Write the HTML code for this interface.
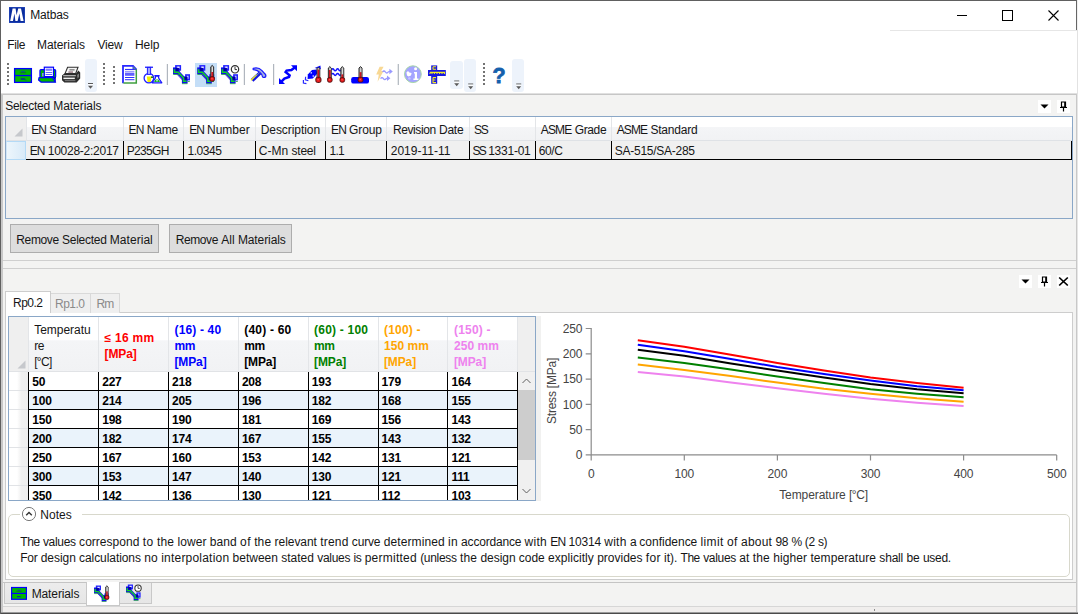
<!DOCTYPE html>
<html>
<head>
<meta charset="utf-8">
<title>Matbas</title>
<style>
*{box-sizing:border-box;margin:0;padding:0}
html,body{width:1078px;height:614px;overflow:hidden;background:#fff}
body{font-family:"Liberation Sans",sans-serif;font-size:12px;color:#161616;position:relative}
.abs{position:absolute}
.t{position:absolute;white-space:nowrap;line-height:16px}
#win{position:absolute;left:0;top:0;width:1078px;height:614px;background:#fff;overflow:hidden}
.btn{position:absolute;background:#dddddd;border:1px solid #adadad}
.hdr{position:absolute;background:linear-gradient(#ffffff 0%,#ffffff 42%,#f4f5f7 43%,#f1f2f4 100%)}
svg{position:absolute;overflow:visible}
</style>
</head>
<body>
<div id="win">
<!-- title bar -->
<svg style="left:9px;top:7px" width="16" height="16" viewBox="0 0 16 16">
<rect x="0" y="0" width="16" height="16" fill="#2a4cc0"/>
<rect x="0.6" y="0.6" width="14.8" height="14.8" fill="#0a2d9e"/>
<path d="M1.2 14 L3.6 1.6 L6.6 1.6 L7.6 8.2 L9.2 1.6 L12 1.6 L14.6 14 L11.6 14 L10.4 6.6 L8.6 14 L6.4 14 L5.4 6.6 L4 14 Z" fill="#fff"/>
</svg>
<div class="t" style="left:30.3px;top:7px;letter-spacing:-0.175px">Matbas</div>
<div class="abs" style="left:957px;top:15px;width:10px;height:1px;background:#000"></div>
<div class="abs" style="left:1002px;top:10px;width:11px;height:11px;border:1px solid #000"></div>
<svg style="left:1047px;top:9px" width="13" height="13" viewBox="0 0 13 13"><path d="M1.5 1.5 L11.5 11.5 M11.5 1.5 L1.5 11.5" stroke="#000" stroke-width="1.1" fill="none"/></svg>
<div class="abs" style="left:890px;top:30px;width:187px;height:1px;background:#e6e6e6"></div>
<!-- menu -->
<div class="t" style="left:7.3px;top:37px;letter-spacing:-0.434px">File</div>
<div class="t" style="left:37px;top:37px;letter-spacing:-0.076px">Materials</div>
<div class="t" style="left:97.5px;top:37px;letter-spacing:-0.198px">View</div>
<div class="t" style="left:135px;top:37px;letter-spacing:-0.070px">Help</div>
<!-- toolbar -->
<div class="abs" style="left:85px;top:59px;width:11.5px;height:33px;background:#edf3fb;border-radius:3px"></div>
<div class="abs" style="left:449.5px;top:61px;width:13px;height:28px;background:#edf3fb;border-radius:3px"></div>
<div class="abs" style="left:464px;top:58.5px;width:12px;height:33px;background:#edf3fb;border-radius:3px"></div>
<div class="abs" style="left:512px;top:58.5px;width:12px;height:33px;background:#edf3fb;border-radius:3px"></div>
<div class="abs" style="left:195px;top:62.5px;width:22px;height:24px;background:#c4def7"></div>
<svg style="left:0;top:0" width="1078" height="100" viewBox="0 0 1078 100">
<rect x="7" y="63" width="2" height="2" fill="#737373"/><rect x="7" y="67" width="2" height="2" fill="#737373"/><rect x="7" y="71" width="2" height="2" fill="#737373"/><rect x="7" y="75" width="2" height="2" fill="#737373"/><rect x="7" y="79" width="2" height="2" fill="#737373"/><rect x="7" y="83" width="2" height="2" fill="#737373"/>
<rect x="103" y="63" width="2" height="2" fill="#737373"/><rect x="103" y="67" width="2" height="2" fill="#737373"/><rect x="103" y="71" width="2" height="2" fill="#737373"/><rect x="103" y="75" width="2" height="2" fill="#737373"/><rect x="103" y="79" width="2" height="2" fill="#737373"/><rect x="103" y="83" width="2" height="2" fill="#737373"/>
<rect x="113" y="66" width="2" height="2" fill="#737373"/><rect x="113" y="70" width="2" height="2" fill="#737373"/><rect x="113" y="74" width="2" height="2" fill="#737373"/><rect x="113" y="78" width="2" height="2" fill="#737373"/><rect x="113" y="82" width="2" height="2" fill="#737373"/>
<rect x="483" y="63" width="2" height="2" fill="#737373"/><rect x="483" y="67" width="2" height="2" fill="#737373"/><rect x="483" y="71" width="2" height="2" fill="#737373"/><rect x="483" y="75" width="2" height="2" fill="#737373"/><rect x="483" y="79" width="2" height="2" fill="#737373"/><rect x="483" y="83" width="2" height="2" fill="#737373"/>
<rect x="88.0" y="83.0" width="5" height="1" fill="#5a5a5a"/><rect x="88.0" y="84.2" width="5" height="1" fill="#fff"/><path d="M88.0 85.8 h5 l-2.5 3 z" fill="#5a5a5a"/>
<rect x="454.2" y="80.5" width="5" height="1" fill="#5a5a5a"/><rect x="454.2" y="81.7" width="5" height="1" fill="#fff"/><path d="M454.2 83.3 h5 l-2.5 3 z" fill="#5a5a5a"/>
<rect x="468.2" y="83.5" width="5" height="1" fill="#5a5a5a"/><rect x="468.2" y="84.7" width="5" height="1" fill="#fff"/><path d="M468.2 86.3 h5 l-2.5 3 z" fill="#5a5a5a"/>
<rect x="516.2" y="83.5" width="5" height="1" fill="#5a5a5a"/><rect x="516.2" y="84.7" width="5" height="1" fill="#fff"/><path d="M516.2 86.3 h5 l-2.5 3 z" fill="#5a5a5a"/>
<rect x="166.8" y="64" width="1.2" height="21" fill="#b0b6be"/>
<rect x="243.8" y="64" width="1.2" height="21" fill="#b0b6be"/>
<rect x="273.0" y="64" width="1.2" height="21" fill="#b0b6be"/>
<rect x="397.7" y="64" width="1.2" height="21" fill="#b0b6be"/>
<rect x="14.6" y="68.6" width="16.8" height="13.8" fill="#00b800" stroke="#0000ff" stroke-width="1.3"/><rect x="14.6" y="74.9" width="16.8" height="1.3" fill="#0000ff"/><path d="M15.5 69.9 H30.5" stroke="#0a3a90" stroke-width="0.6" stroke-dasharray="1 1"/><rect x="21" y="71.4" width="4" height="1" fill="#1030c0"/><rect x="19.8" y="72.6" width="6.4" height="0.6" fill="#106020"/><rect x="20.8" y="78.3" width="4" height="1.4" fill="#0828a0"/><path d="M24.5 79 L26.4 80.6" stroke="#0828a0" stroke-width="0.7"/>
<rect x="40" y="69.6" width="15.6" height="8" rx="1" fill="#00b800" stroke="#0000ff" stroke-width="1.3"/><rect x="44.3" y="67.2" width="9.2" height="9.4" fill="#fff" stroke="#0000ff" stroke-width="1.2"/><rect x="45.6" y="68.6" width="6.6" height="2.2" fill="#8080ff"/><rect x="45.6" y="72" width="6.6" height="0.9" fill="#5050ff"/><rect x="45.6" y="74" width="6.6" height="0.9" fill="#5050ff"/><rect x="42" y="73" width="1.6" height="3.4" fill="#8888ff"/><path d="M52.5 77 L55.8 77 L55.8 82 Z" fill="#0000c8"/><path d="M39 77.6 L52.4 77.6 L55.6 82.2 L41.2 82.2 L38.6 80 Z" fill="#00b800" stroke="#0000ff" stroke-width="1.2" stroke-linejoin="round"/>
<path d="M67.6 67.2 L78 67.2 L75.6 73.6 L65 73.6 Z" fill="#f4f4f4" stroke="#303030" stroke-width="1.1"/><rect x="69.4" y="69" width="5.2" height="1.6" fill="#909090"/><rect x="68.4" y="71.6" width="4.6" height="0.9" fill="#603040"/><path d="M64.4 73.4 L76 73.4 L78.4 70.4 L80.2 72.4 L80.2 78.6 L76.6 82.6 L64.4 82.6 L62 80.2 L62 75.6 Z" fill="#2c2c2c"/><rect x="63.2" y="75.3" width="12.6" height="0.9" fill="#e8e8e8"/><rect x="63.4" y="77.6" width="11.4" height="1.5" fill="#f0f0f0"/><rect x="64.8" y="80.4" width="10.6" height="0.7" fill="#a0a0a0"/><path d="M77 75 L79 73.4 L79 77 L77.6 78.6 Z" fill="#808080"/>
<path d="M122.9 65.9 L133 65.9 L136.4 69.4 L136.4 83.1 L122.9 83.1 Z" fill="#fff"/><path d="M123 83.2 L123 65.9 L133 65.9 L136.3 69.3" stroke="#2828ff" stroke-width="1.8" fill="none"/><path d="M136.3 69 L136.3 83.1 L123.4 83.1" stroke="#40a040" stroke-width="1.5" fill="none"/><path d="M133 66 L133 69.4 L136.3 69.4" stroke="#3838f0" stroke-width="1" fill="#60b060"/><rect x="125" y="68.9" width="9.4" height="1.1" fill="#3030ff"/><rect x="125" y="70.9" width="9.4" height="0.8" fill="#7070ff"/><rect x="125" y="72.6" width="9.4" height="3.2" fill="#6060ff"/><rect x="125" y="77" width="9.4" height="1" fill="#3030ff"/><rect x="125" y="79.2" width="9.4" height="1" fill="#3030ff"/>
<circle cx="148.9" cy="78.1" r="4.8" fill="#fff" stroke="#2020ff" stroke-width="1.3"/><rect x="147.4" y="67.4" width="3.2" height="7" fill="#a8a8ff" stroke="#2020ff" stroke-width="1"/><rect x="145" y="66.6" width="8" height="1.3" fill="#2020ff"/><path d="M146.8 76.6 L151.6 76.6 L150.8 82 L147.6 82 Z" fill="#f4f000"/><path d="M155.4 76 L158.6 76 L158.6 78 L161.8 82.8 L152.2 82.8 L155.4 78 Z" fill="#fff" stroke="#1818ff" stroke-width="1.3" stroke-linejoin="round"/><rect x="154.4" y="75" width="5.2" height="1.2" fill="#1818ff"/><path d="M155.6 79.6 L158.4 79.6 L160 82 L154 82 Z" fill="#10b020"/><rect x="156.4" y="80" width="1.2" height="1.4" fill="#fff"/><rect x="151" y="76.4" width="2" height="1.6" fill="#208020"/>
<g transform="translate(173,65.2)"><path d="M5 7 L12.2 14.8" stroke="#1818e8" stroke-width="3.4" fill="none"/><path d="M3.8 8.8 L10 15.4" stroke="#0a0ab8" stroke-width="0.8" fill="none"/><rect x="2.9" y="0.7" width="4.4" height="4" fill="#fff" stroke="#2222ff" stroke-width="1.6"/><rect x="0" y="2.2" width="6.5" height="6.8" fill="#1010e8"/><rect x="2.6" y="2.8" width="3" height="3" fill="#0000a0"/><rect x="4.4" y="1.5" width="2.1" height="1.2" fill="#e8e8ff"/><rect x="12.9" y="9.8" width="3.3" height="4.6" fill="#fff" stroke="#2222ff" stroke-width="1.6"/><rect x="8.9" y="11.4" width="5.7" height="6.9" fill="#1010e8"/><rect x="11.2" y="11.6" width="3" height="3" fill="#0000a0"/><path d="M1.4 4 L1.4 7 L5.2 7 L10.6 12.8 L10.6 16 L13.6 16" stroke="#10d820" stroke-width="1.5" fill="none"/><path d="M0.2 9.3 L5.6 9.3 M9 18.5 L14.4 18.5 M14.8 16.3 L16.8 16.3" stroke="#20a040" stroke-width="0.8" fill="none"/></g>
<g transform="translate(197.2,65.2)"><path d="M5 7 L12.2 14.8" stroke="#1818e8" stroke-width="3.4" fill="none"/><path d="M3.8 8.8 L10 15.4" stroke="#0a0ab8" stroke-width="0.8" fill="none"/><rect x="2.9" y="0.7" width="4.4" height="4" fill="#fff" stroke="#2222ff" stroke-width="1.6"/><rect x="0" y="2.2" width="6.5" height="6.8" fill="#1010e8"/><rect x="2.6" y="2.8" width="3" height="3" fill="#0000a0"/><rect x="4.4" y="1.5" width="2.1" height="1.2" fill="#e8e8ff"/><rect x="12.9" y="9.8" width="3.3" height="4.6" fill="#fff" stroke="#2222ff" stroke-width="1.6"/><rect x="8.9" y="11.4" width="5.7" height="6.9" fill="#1010e8"/><rect x="11.2" y="11.6" width="3" height="3" fill="#0000a0"/><path d="M1.4 4 L1.4 7 L5.2 7 L10.6 12.8 L10.6 16 L13.6 16" stroke="#10d820" stroke-width="1.5" fill="none"/><path d="M0.2 9.3 L5.6 9.3 M9 18.5 L14.4 18.5 M14.8 16.3 L16.8 16.3" stroke="#20a040" stroke-width="0.8" fill="none"/></g>
<path d="M210.75 78.6 L210.75 66.80000000000001 L212.2 65.4 L213.64999999999998 66.80000000000001 L213.64999999999998 78.6 Z" fill="#b0b0b0" stroke="#282828" stroke-width="1" stroke-linejoin="round"/><rect x="212.1" y="67.0" width="0.9" height="4.999999999999995" fill="#e4e4e4"/><rect x="211.35" y="72" width="1.7" height="6.599999999999994" fill="#d01420"/><rect x="209.89999999999998" y="76.6" width="4.6" height="4.6" rx="1.7" fill="#e41818" stroke="#4a1010" stroke-width="0.9"/><circle cx="212.0" cy="78.69999999999999" r="0.8" fill="#ff5858"/>
<g transform="translate(221,65.2)"><path d="M5 7 L12.2 14.8" stroke="#1818e8" stroke-width="3.4" fill="none"/><path d="M3.8 8.8 L10 15.4" stroke="#0a0ab8" stroke-width="0.8" fill="none"/><rect x="2.9" y="0.7" width="4.4" height="4" fill="#fff" stroke="#2222ff" stroke-width="1.6"/><rect x="0" y="2.2" width="6.5" height="6.8" fill="#1010e8"/><rect x="2.6" y="2.8" width="3" height="3" fill="#0000a0"/><rect x="4.4" y="1.5" width="2.1" height="1.2" fill="#e8e8ff"/><rect x="12.9" y="9.8" width="3.3" height="4.6" fill="#fff" stroke="#2222ff" stroke-width="1.6"/><rect x="8.9" y="11.4" width="5.7" height="6.9" fill="#1010e8"/><rect x="11.2" y="11.6" width="3" height="3" fill="#0000a0"/><path d="M1.4 4 L1.4 7 L5.2 7 L10.6 12.8 L10.6 16 L13.6 16" stroke="#10d820" stroke-width="1.5" fill="none"/><path d="M0.2 9.3 L5.6 9.3 M9 18.5 L14.4 18.5 M14.8 16.3 L16.8 16.3" stroke="#20a040" stroke-width="0.8" fill="none"/></g>
<circle cx="235" cy="69.3" r="3.7" fill="#fff" stroke="#303030" stroke-width="1.2"/><path d="M235 66.8 L235 69.6 L237 69.6" stroke="#202020" stroke-width="0.9" fill="none"/>
<path d="M253.2 68.4 Q258.4 66.8 262 70.6 L264.4 73.4 Q266.4 74.6 265.6 76.8 Q264.4 78 262.6 77 Q262.4 74.6 260.2 72.8 Q257 69.8 253.2 69.6 Z" fill="#a8b4e0" stroke="#1c1cff" stroke-width="1.3" stroke-linejoin="round"/><path d="M260 73 L252.2 80.4" stroke="#1414e0" stroke-width="3.6" fill="none"/><path d="M256.8 74.8 L251 80.2" stroke="#ecec10" stroke-width="1.4" fill="none"/><path d="M259.6 72.6 L254.4 77.6" stroke="#88a8a0" stroke-width="0.8" fill="none"/>
<path d="M291 65.2 L297 65.2 L297 71.2 Z" fill="#0000ff"/><path d="M279 78 L279 84 L285 84 Z" fill="#0000ff"/><path d="M295.4 67 L291.4 70 L286.6 70.6 L285.6 72 L289.6 75.4 L289 77 L284.4 78.6 L280.4 82.6" stroke="#0000ff" stroke-width="2.5" fill="none" stroke-linejoin="miter"/>
<path d="M307.6 79 L307.8 74.6 L312 70 L316.6 69.6 L317.4 73.4 L312.8 78.6 Z" fill="#0000ff"/><path d="M314.6 68 L320.4 65.6 L320.8 69.2" fill="#0000ff"/><path d="M305.6 76.8 L305.4 79.8 L308.4 80.8 M303.4 80 L303.4 83 L306.4 83.6" stroke="#2828ff" stroke-width="1.2" fill="none"/><rect x="310.6" y="72.2" width="1.3" height="1.3" fill="#fff"/><rect x="312.6" y="75.4" width="1.3" height="1.3" fill="#fff"/><path d="M317.0 79.6 L317.0 68.60000000000001 L318.4 67.2 L319.79999999999995 68.60000000000001 L319.79999999999995 79.6 Z" fill="#b0b0b0" stroke="#282828" stroke-width="1" stroke-linejoin="round"/><rect x="318.29999999999995" y="68.8" width="0.9" height="0.7999999999999914" fill="#e4e4e4"/><rect x="317.6" y="69.6" width="1.5999999999999999" height="10.0" fill="#d01420"/><rect x="315.79999999999995" y="77.3" width="5.2" height="5.2" rx="1.7" fill="#e41818" stroke="#4a1010" stroke-width="0.9"/><circle cx="318.2" cy="79.69999999999999" r="0.8" fill="#ff5858"/>
<path d="M331.6 69.8 q1.2 -2 2.4 0 t2.4 0 t2.4 0 t2.4 0 M331.6 74.4 q1.2 -2 2.4 0 t2.4 0 t2.4 0 t2.4 0" stroke="#1818ff" stroke-width="1.5" fill="none"/><path d="M328.35 79.6 L328.35 68.0 L329.8 66.6 L331.25 68.0 L331.25 79.6 Z" fill="#b0b0b0" stroke="#282828" stroke-width="1" stroke-linejoin="round"/><rect x="329.7" y="68.19999999999999" width="0.9" height="1.8000000000000056" fill="#e4e4e4"/><rect x="328.95000000000005" y="70" width="1.7" height="9.599999999999994" fill="#d01420"/><rect x="327.5" y="77.6" width="4.6" height="4.6" rx="1.7" fill="#e41818" stroke="#4a1010" stroke-width="0.9"/><circle cx="329.6" cy="79.69999999999999" r="0.8" fill="#ff5858"/>
<path d="M340.85 79.6 L340.85 68.0 L342.3 66.6 L343.75 68.0 L343.75 79.6 Z" fill="#b0b0b0" stroke="#282828" stroke-width="1" stroke-linejoin="round"/><rect x="342.2" y="68.19999999999999" width="0.9" height="6.200000000000012" fill="#e4e4e4"/><rect x="341.45000000000005" y="74.4" width="1.7" height="5.199999999999989" fill="#d01420"/><rect x="340.0" y="77.6" width="4.6" height="4.6" rx="1.7" fill="#e41818" stroke="#4a1010" stroke-width="0.9"/><circle cx="342.1" cy="79.69999999999999" r="0.8" fill="#ff5858"/>
<rect x="351.2" y="77" width="17.8" height="6.6" rx="2.2" fill="#0000ff"/><path d="M359.0 79.4 L359.0 68.0 L360.5 66.6 L362.0 68.0 L362.0 79.4 Z" fill="#b0b0b0" stroke="#282828" stroke-width="1" stroke-linejoin="round"/><rect x="360.4" y="68.19999999999999" width="0.9" height="4.000000000000009" fill="#e4e4e4"/><rect x="359.6" y="72.2" width="1.8" height="7.200000000000003" fill="#d01420"/><rect x="358.1" y="77.3" width="4.8" height="4.8" rx="1.7" fill="#e41818" stroke="#4a1010" stroke-width="0.9"/><circle cx="360.3" cy="79.5" r="0.8" fill="#ff5858"/>
<path d="M379.6 66.8 L383.6 66.8 L381.2 71 L383.6 71 L377.6 81.8 L378.8 74.6 L376.2 74.6 Z" fill="#f8d894"/><path d="M382.6 72 q1.4 -2 2.8 0 t2.8 0 L390 71.4 M380.6 78.6 q1.4 -2 2.8 0 t2.8 0 L388 78" stroke="#9898ff" stroke-width="1.3" fill="none"/><path d="M389.4 68.8 L392.8 71.4 L389.4 74.2 Z M387 75.6 L390.4 78.2 L387 81 Z" fill="#9898ff"/>
<circle cx="412.9" cy="74.2" r="8.4" fill="#a4a4ff" stroke="#a8d8a8" stroke-width="1"/><path d="M406.4 72.6 l1.6 -1.6 l1.4 1.6 l2.2 0.4 l-0.6 2.4 l-2.4 1 l-1.6 -0.8 z" fill="#fff"/><circle cx="415.6" cy="68.8" r="1.5" fill="#fff"/><path d="M414 72 L417 72 L417 78.4 L418.4 78.4 L418.4 80 L413.4 80 L413.4 78.4 L414.8 78.4 L414.8 73.6 L414 73.6 Z" fill="#fff"/><circle cx="409.4" cy="78.4" r="1.2" fill="#c8c8ff"/>
<rect x="431.2" y="65.4" width="6" height="18.4" fill="#1818e0"/><rect x="428" y="70" width="17.8" height="6" fill="#1818e0"/><path d="M433 66.8 h3 M433 66.8 v2.6 M433 69.2 h3 M433 77.6 h3 M433 77.6 v5.4 M433 80 h2.4 M433 82.6 h3" stroke="#f4ec20" stroke-width="1.1" fill="none"/><path d="M430 72.4 h15 M430 74 v-1.4 M432 74 v-1.4 M434.4 74 v-1.4 M437 74 v-1.4 M439.6 74 v-1.4 M442 74 v-1.4 M444.4 74 v-1.4" stroke="#f4ec20" stroke-width="1.1" fill="none"/>
</svg>
<div class="t" style="left:492.6px;top:61.6px;font-size:21.5px;font-weight:bold;color:#1560ac;line-height:28px;-webkit-text-stroke:0.8px #1560ac">?</div>
<!-- dock area -->
<div class="abs" style="left:1px;top:93px;width:1076px;height:519px;background:#f3f3f2"></div>
<div class="abs" style="left:1px;top:93px;width:1076px;height:1px;background:#e0e0e0"></div>
<div class="abs" style="left:1px;top:94px;width:1076px;height:1px;background:#c6c6c6"></div>
<!-- panel 1 -->
<div class="t" style="left:5.2px;top:98px;letter-spacing:-0.251px">Selected</div>
<div class="t" style="left:53.18px;top:98px;letter-spacing:-0.040px">Materials</div>
<div class="abs" style="left:1038px;top:100px;width:13px;height:13px;background:#fff"></div>
<svg style="left:1038px;top:100px" width="13" height="13" viewBox="0 0 13 13"><path d="M2.5 4.5 L10.5 4.5 L6.5 8.5 Z" fill="#000"/></svg>
<div class="abs" style="left:1057px;top:100px;width:13px;height:13px;background:#fff"></div>
<svg style="left:1057px;top:100px" width="13" height="13" viewBox="0 0 13 13"><path d="M4.5 2 L8.5 2 L8.5 7 L4.5 7 Z M3 7.5 L10 7.5 M6.5 7.5 L6.5 11.5" stroke="#000" stroke-width="1.2" fill="none"/><rect x="7.2" y="2" width="1.3" height="5" fill="#000"/></svg>
<div class="abs" style="left:5px;top:116px;width:1068px;height:103px;border:1px solid #8aa7c7;background:#f0f0f0"></div>
<div class="hdr" style="left:6px;top:117px;width:1066px;height:24px"></div>
<div class="abs" style="left:6px;top:117px;width:20px;height:23px;background:#efefef"></div>
<div class="abs" style="left:6px;top:140px;width:1066px;height:1px;background:#dfe2e6"></div>
<svg style="left:14px;top:128px" width="9" height="9" viewBox="0 0 9 9"><path d="M8.5 0.5 L8.5 8.5 L0.5 8.5 Z" fill="#c6c8cc"/></svg>
<div class="abs" style="left:26px;top:117px;width:1px;height:24px;background:#e3e5e8"></div>
<div class="abs" style="left:123px;top:117px;width:1px;height:24px;background:#e3e5e8"></div>
<div class="abs" style="left:183px;top:117px;width:1px;height:24px;background:#e3e5e8"></div>
<div class="abs" style="left:255px;top:117px;width:1px;height:24px;background:#e3e5e8"></div>
<div class="abs" style="left:325px;top:117px;width:1px;height:24px;background:#e3e5e8"></div>
<div class="abs" style="left:386px;top:117px;width:1px;height:24px;background:#e3e5e8"></div>
<div class="abs" style="left:469px;top:117px;width:1px;height:24px;background:#e3e5e8"></div>
<div class="abs" style="left:535px;top:117px;width:1px;height:24px;background:#e3e5e8"></div>
<div class="abs" style="left:611px;top:117px;width:1px;height:24px;background:#e3e5e8"></div>
<div class="t" style="left:31.2px;top:122px;letter-spacing:-0.943px">EN</div>
<div class="t" style="left:49.21px;top:122px;letter-spacing:-0.227px">Standard</div>
<div class="t" style="left:128.6px;top:122px;letter-spacing:-0.891px">EN</div>
<div class="t" style="left:146.74px;top:122px;letter-spacing:-0.163px">Name</div>
<div class="t" style="left:189.2px;top:122px;letter-spacing:-0.997px">EN</div>
<div class="t" style="left:207.08px;top:122px;letter-spacing:-0.027px">Number</div>
<div class="t" style="left:260.7px;top:122px;letter-spacing:-0.066px">Description</div>
<div class="t" style="left:331.1px;top:122px;letter-spacing:-0.944px">EN</div>
<div class="t" style="left:349.11px;top:122px;letter-spacing:-0.133px">Group</div>
<div class="t" style="left:392.9px;top:122px;letter-spacing:-0.391px">Revision</div>
<div class="t" style="left:439.0px;top:122px;letter-spacing:-0.262px">Date</div>
<div class="t" style="left:474.0px;top:122px;letter-spacing:-1.255px">SS</div>
<div class="t" style="left:540.8px;top:122px;letter-spacing:-0.844px">ASME</div>
<div class="t" style="left:574.69px;top:122px;letter-spacing:-0.368px">Grade</div>
<div class="t" style="left:616.7px;top:122px;letter-spacing:-0.883px">ASME</div>
<div class="t" style="left:650.42px;top:122px;letter-spacing:-0.215px">Standard</div>
<div class="abs" style="left:6px;top:141px;width:20px;height:19px;background:linear-gradient(to right,#edf6fc,#d8eaf8);border:1px solid #b4daf6;border-left-color:#d0e6f8"></div>
<div class="abs" style="left:26px;top:159px;width:1046px;height:1px;background:#000"></div>
<div class="abs" style="left:123px;top:141px;width:1px;height:19px;background:#000"></div>
<div class="abs" style="left:183px;top:141px;width:1px;height:19px;background:#000"></div>
<div class="abs" style="left:255px;top:141px;width:1px;height:19px;background:#000"></div>
<div class="abs" style="left:325px;top:141px;width:1px;height:19px;background:#000"></div>
<div class="abs" style="left:386px;top:141px;width:1px;height:19px;background:#000"></div>
<div class="abs" style="left:469px;top:141px;width:1px;height:19px;background:#000"></div>
<div class="abs" style="left:535px;top:141px;width:1px;height:19px;background:#000"></div>
<div class="abs" style="left:611px;top:141px;width:1px;height:19px;background:#000"></div>
<div class="abs" style="left:1071px;top:141px;width:1px;height:19px;background:#000"></div>
<div class="t" style="left:29.7px;top:143.4px;letter-spacing:-0.929px">EN</div>
<div class="t" style="left:47.75px;top:143.4px;letter-spacing:-0.259px">10028-2:2017</div>
<div class="t" style="left:126.7px;top:143.4px;letter-spacing:-0.654px">P235GH</div>
<div class="t" style="left:187.5px;top:143.4px;letter-spacing:-0.450px">1.0345</div>
<div class="t" style="left:258.8px;top:143.4px;letter-spacing:0.025px">C-Mn</div>
<div class="t" style="left:291.48px;top:143.4px;letter-spacing:-0.205px">steel</div>
<div class="t" style="left:329.5px;top:143.4px;letter-spacing:-0.727px">1.1</div>
<div class="t" style="left:390.7px;top:143.4px;letter-spacing:0.020px">2019-11-11</div>
<div class="t" style="left:472.6px;top:143.4px;letter-spacing:-1.819px">SS</div>
<div class="t" style="left:488.16px;top:143.4px;letter-spacing:-0.243px">1331-01</div>
<div class="t" style="left:538.8px;top:143.4px;letter-spacing:-0.412px">60/C</div>
<div class="t" style="left:614.8px;top:143.4px;letter-spacing:-0.268px">SA-515/SA-285</div>
<div class="btn" style="left:10px;top:224px;width:149px;height:29px"></div>
<div class="t" style="left:16.3px;top:232px;letter-spacing:-0.359px">Remove</div>
<div class="t" style="left:62.09px;top:232px;letter-spacing:-0.282px">Selected</div>
<div class="t" style="left:109.8px;top:232px;letter-spacing:0.040px">Material</div>
<div class="btn" style="left:169px;top:224px;width:123px;height:29px"></div>
<div class="t" style="left:175.7px;top:232px;letter-spacing:-0.395px">Remove</div>
<div class="t" style="left:221.26px;top:232px;letter-spacing:0.015px">All</div>
<div class="t" style="left:237.89px;top:232px;letter-spacing:-0.096px">Materials</div>
<div class="abs" style="left:1px;top:260px;width:1075px;height:1px;background:#cfcfcf"></div>
<div class="abs" style="left:3px;top:268px;width:1073px;height:1px;background:#cfcfcf"></div>
<!-- panel 2 -->
<div class="abs" style="left:1019px;top:275px;width:13px;height:13px;background:#fff"></div>
<div class="abs" style="left:1038px;top:275px;width:13px;height:13px;background:#fff"></div>
<div class="abs" style="left:1057px;top:275px;width:13px;height:13px;background:#fff"></div>
<svg style="left:1019px;top:275px" width="13" height="13" viewBox="0 0 13 13"><path d="M2.5 4.5 L10.5 4.5 L6.5 8.5 Z" fill="#000"/></svg>
<svg style="left:1038px;top:275px" width="13" height="13" viewBox="0 0 13 13"><path d="M4.5 2 L8.5 2 L8.5 7 L4.5 7 Z M3 7.5 L10 7.5 M6.5 7.5 L6.5 11.5" stroke="#000" stroke-width="1.2" fill="none"/><rect x="7.2" y="2" width="1.3" height="5" fill="#000"/></svg>
<svg style="left:1057px;top:275px" width="13" height="13" viewBox="0 0 13 13"><path d="M2.2 2.5 L10.8 10.5 M10.8 2.5 L2.2 10.5" stroke="#000" stroke-width="1.7" fill="none"/></svg>
<div class="abs" style="left:5px;top:312px;width:1068px;height:268px;background:#fff;border:1px solid #cdcdcd"></div>
<div class="abs" style="left:50px;top:293px;width:41px;height:20px;background:#efefef;border:1px solid #d9d9d9;border-bottom:none"></div>
<div class="abs" style="left:90px;top:293px;width:30px;height:20px;background:#efefef;border:1px solid #d9d9d9;border-bottom:none"></div>
<div class="abs" style="left:5px;top:291px;width:46px;height:22px;background:#fff;border:1px solid #cdcdcd;border-bottom:none"></div>
<div class="t" style="left:13px;top:295px;letter-spacing:-0.504px">Rp0.2</div>
<div class="t" style="left:55px;top:296px;color:#8a8a8a;letter-spacing:-0.504px">Rp1.0</div>
<div class="t" style="left:96.5px;top:296px;color:#8a8a8a;letter-spacing:-0.831px">Rm</div>
<div class="abs" style="left:8px;top:316px;width:528px;height:185px;border:1px solid #8aa7c7;background:#fff;overflow:hidden"></div>
<div class="hdr" style="left:9px;top:317px;width:509px;height:55px"></div>
<div class="abs" style="left:518px;top:317px;width:17px;height:55px;background:#efefef"></div>
<div class="abs" style="left:9px;top:317px;width:20px;height:54px;background:#efefef"></div>
<div class="abs" style="left:9px;top:371px;width:526px;height:1px;background:#e1e3e6"></div>
<svg style="left:17px;top:360px" width="9" height="9" viewBox="0 0 9 9"><path d="M8.5 0.5 L8.5 8.5 L0.5 8.5 Z" fill="#c6c8cc"/></svg>
<div class="abs" style="left:28.35px;top:317px;width:1px;height:55px;background:#e3e5e8"></div>
<div class="abs" style="left:98.2px;top:317px;width:1px;height:55px;background:#e3e5e8"></div>
<div class="abs" style="left:168.05px;top:317px;width:1px;height:55px;background:#e3e5e8"></div>
<div class="abs" style="left:237.9px;top:317px;width:1px;height:55px;background:#e3e5e8"></div>
<div class="abs" style="left:307.75px;top:317px;width:1px;height:55px;background:#e3e5e8"></div>
<div class="abs" style="left:377.6px;top:317px;width:1px;height:55px;background:#e3e5e8"></div>
<div class="abs" style="left:447.45px;top:317px;width:1px;height:55px;background:#e3e5e8"></div>
<div class="abs" style="left:517.3px;top:317px;width:1px;height:55px;background:#e3e5e8"></div>
<div class="t" style="left:34.2px;top:322px;letter-spacing:-0.022px">Temperatu</div>
<div class="t" style="left:34.2px;top:338px;letter-spacing:-0.335px">re</div>
<div class="t" style="left:34.2px;top:353.5px;letter-spacing:-0.658px">[°C]</div>
<div class="t" style="left:104.6px;top:329.5px;font-weight:bold;color:#ff0000;letter-spacing:0.265px">≤ 16 mm</div>
<div class="t" style="left:104.6px;top:345.5px;font-weight:bold;color:#ff0000;letter-spacing:-0.134px">[MPa]</div>
<div class="t" style="left:174.5px;top:322px;font-weight:bold;color:#0000ff;letter-spacing:0.150px">(16) - 40</div>
<div class="t" style="left:174.5px;top:338px;font-weight:bold;color:#0000ff;letter-spacing:-0.420px">mm</div>
<div class="t" style="left:174.5px;top:354px;font-weight:bold;color:#0000ff;letter-spacing:-0.134px">[MPa]</div>
<div class="t" style="left:244.2px;top:322px;font-weight:bold;color:#000000;letter-spacing:0.205px">(40) - 60</div>
<div class="t" style="left:244.2px;top:338px;font-weight:bold;color:#000000;letter-spacing:-0.420px">mm</div>
<div class="t" style="left:244.2px;top:354px;font-weight:bold;color:#000000;letter-spacing:-0.134px">[MPa]</div>
<div class="t" style="left:314.1px;top:322px;font-weight:bold;color:#008000;letter-spacing:0.207px">(60) - 100</div>
<div class="t" style="left:314.1px;top:338px;font-weight:bold;color:#008000;letter-spacing:-0.420px">mm</div>
<div class="t" style="left:314.1px;top:354px;font-weight:bold;color:#008000;letter-spacing:-0.134px">[MPa]</div>
<div class="t" style="left:384px;top:322px;font-weight:bold;color:#ffa500;letter-spacing:0.179px">(100) -</div>
<div class="t" style="left:384px;top:338px;font-weight:bold;color:#ffa500;letter-spacing:0.051px">150 mm</div>
<div class="t" style="left:384px;top:354px;font-weight:bold;color:#ffa500;letter-spacing:-0.134px">[MPa]</div>
<div class="t" style="left:454px;top:322px;font-weight:bold;color:#ee82ee;letter-spacing:0.179px">(150) -</div>
<div class="t" style="left:454px;top:338px;font-weight:bold;color:#ee82ee;letter-spacing:0.051px">250 mm</div>
<div class="t" style="left:454px;top:354px;font-weight:bold;color:#ee82ee;letter-spacing:-0.134px">[MPa]</div>
<div class="abs" style="left:9px;top:372px;width:526px;height:128px;overflow:hidden">
<div class="abs" style="left:20px;top:0px;width:489px;height:19px;background:#ffffff"></div>
<div class="abs" style="left:0px;top:0px;width:20px;height:19px;background:linear-gradient(to right,#fff 0%,#fff 40%,#f0f0f0 62%,#eeeeee 100%)"></div>
<div class="abs" style="left:0px;top:18px;width:20px;height:1px;background:#e1e3e6"></div>
<div class="abs" style="left:20px;top:18px;width:489px;height:1px;background:#000"></div>
<div class="abs" style="left:89.2px;top:0px;width:1px;height:19px;background:#000"></div>
<div class="abs" style="left:159.05px;top:0px;width:1px;height:19px;background:#000"></div>
<div class="abs" style="left:228.9px;top:0px;width:1px;height:19px;background:#000"></div>
<div class="abs" style="left:298.75px;top:0px;width:1px;height:19px;background:#000"></div>
<div class="abs" style="left:368.6px;top:0px;width:1px;height:19px;background:#000"></div>
<div class="abs" style="left:438.45px;top:0px;width:1px;height:19px;background:#000"></div>
<div class="abs" style="left:508.29999999999995px;top:0px;width:1px;height:19px;background:#000"></div>
<div class="abs" style="left:19.35px;top:0px;width:1px;height:19px;background:#000"></div>
<div class="t" style="left:23.35px;top:1.5px;font-weight:bold;color:#000;letter-spacing:-0.234px">50</div>
<div class="t" style="left:93.2px;top:1.5px;font-weight:bold;color:#000;letter-spacing:-0.234px">227</div>
<div class="t" style="left:163.05px;top:1.5px;font-weight:bold;color:#000;letter-spacing:-0.234px">218</div>
<div class="t" style="left:232.9px;top:1.5px;font-weight:bold;color:#000;letter-spacing:-0.234px">208</div>
<div class="t" style="left:302.75px;top:1.5px;font-weight:bold;color:#000;letter-spacing:-0.234px">193</div>
<div class="t" style="left:372.6px;top:1.5px;font-weight:bold;color:#000;letter-spacing:-0.234px">179</div>
<div class="t" style="left:442.45px;top:1.5px;font-weight:bold;color:#000;letter-spacing:-0.234px">164</div>
<div class="abs" style="left:20px;top:19px;width:489px;height:19px;background:#eaf3fb"></div>
<div class="abs" style="left:0px;top:19px;width:20px;height:19px;background:linear-gradient(to right,#fff 0%,#fff 40%,#f0f0f0 62%,#eeeeee 100%)"></div>
<div class="abs" style="left:0px;top:37px;width:20px;height:1px;background:#e1e3e6"></div>
<div class="abs" style="left:20px;top:37px;width:489px;height:1px;background:#000"></div>
<div class="abs" style="left:89.2px;top:19px;width:1px;height:19px;background:#000"></div>
<div class="abs" style="left:159.05px;top:19px;width:1px;height:19px;background:#000"></div>
<div class="abs" style="left:228.9px;top:19px;width:1px;height:19px;background:#000"></div>
<div class="abs" style="left:298.75px;top:19px;width:1px;height:19px;background:#000"></div>
<div class="abs" style="left:368.6px;top:19px;width:1px;height:19px;background:#000"></div>
<div class="abs" style="left:438.45px;top:19px;width:1px;height:19px;background:#000"></div>
<div class="abs" style="left:508.29999999999995px;top:19px;width:1px;height:19px;background:#000"></div>
<div class="abs" style="left:19.35px;top:19px;width:1px;height:19px;background:#000"></div>
<div class="t" style="left:23.35px;top:20.5px;font-weight:bold;color:#000;letter-spacing:-0.234px">100</div>
<div class="t" style="left:93.2px;top:20.5px;font-weight:bold;color:#000;letter-spacing:-0.234px">214</div>
<div class="t" style="left:163.05px;top:20.5px;font-weight:bold;color:#000;letter-spacing:-0.234px">205</div>
<div class="t" style="left:232.9px;top:20.5px;font-weight:bold;color:#000;letter-spacing:-0.234px">196</div>
<div class="t" style="left:302.75px;top:20.5px;font-weight:bold;color:#000;letter-spacing:-0.234px">182</div>
<div class="t" style="left:372.6px;top:20.5px;font-weight:bold;color:#000;letter-spacing:-0.234px">168</div>
<div class="t" style="left:442.45px;top:20.5px;font-weight:bold;color:#000;letter-spacing:-0.234px">155</div>
<div class="abs" style="left:20px;top:38px;width:489px;height:19px;background:#ffffff"></div>
<div class="abs" style="left:0px;top:38px;width:20px;height:19px;background:linear-gradient(to right,#fff 0%,#fff 40%,#f0f0f0 62%,#eeeeee 100%)"></div>
<div class="abs" style="left:0px;top:56px;width:20px;height:1px;background:#e1e3e6"></div>
<div class="abs" style="left:20px;top:56px;width:489px;height:1px;background:#000"></div>
<div class="abs" style="left:89.2px;top:38px;width:1px;height:19px;background:#000"></div>
<div class="abs" style="left:159.05px;top:38px;width:1px;height:19px;background:#000"></div>
<div class="abs" style="left:228.9px;top:38px;width:1px;height:19px;background:#000"></div>
<div class="abs" style="left:298.75px;top:38px;width:1px;height:19px;background:#000"></div>
<div class="abs" style="left:368.6px;top:38px;width:1px;height:19px;background:#000"></div>
<div class="abs" style="left:438.45px;top:38px;width:1px;height:19px;background:#000"></div>
<div class="abs" style="left:508.29999999999995px;top:38px;width:1px;height:19px;background:#000"></div>
<div class="abs" style="left:19.35px;top:38px;width:1px;height:19px;background:#000"></div>
<div class="t" style="left:23.35px;top:39.5px;font-weight:bold;color:#000;letter-spacing:-0.234px">150</div>
<div class="t" style="left:93.2px;top:39.5px;font-weight:bold;color:#000;letter-spacing:-0.234px">198</div>
<div class="t" style="left:163.05px;top:39.5px;font-weight:bold;color:#000;letter-spacing:-0.234px">190</div>
<div class="t" style="left:232.9px;top:39.5px;font-weight:bold;color:#000;letter-spacing:-0.234px">181</div>
<div class="t" style="left:302.75px;top:39.5px;font-weight:bold;color:#000;letter-spacing:-0.234px">169</div>
<div class="t" style="left:372.6px;top:39.5px;font-weight:bold;color:#000;letter-spacing:-0.234px">156</div>
<div class="t" style="left:442.45px;top:39.5px;font-weight:bold;color:#000;letter-spacing:-0.234px">143</div>
<div class="abs" style="left:20px;top:57px;width:489px;height:19px;background:#eaf3fb"></div>
<div class="abs" style="left:0px;top:57px;width:20px;height:19px;background:linear-gradient(to right,#fff 0%,#fff 40%,#f0f0f0 62%,#eeeeee 100%)"></div>
<div class="abs" style="left:0px;top:75px;width:20px;height:1px;background:#e1e3e6"></div>
<div class="abs" style="left:20px;top:75px;width:489px;height:1px;background:#000"></div>
<div class="abs" style="left:89.2px;top:57px;width:1px;height:19px;background:#000"></div>
<div class="abs" style="left:159.05px;top:57px;width:1px;height:19px;background:#000"></div>
<div class="abs" style="left:228.9px;top:57px;width:1px;height:19px;background:#000"></div>
<div class="abs" style="left:298.75px;top:57px;width:1px;height:19px;background:#000"></div>
<div class="abs" style="left:368.6px;top:57px;width:1px;height:19px;background:#000"></div>
<div class="abs" style="left:438.45px;top:57px;width:1px;height:19px;background:#000"></div>
<div class="abs" style="left:508.29999999999995px;top:57px;width:1px;height:19px;background:#000"></div>
<div class="abs" style="left:19.35px;top:57px;width:1px;height:19px;background:#000"></div>
<div class="t" style="left:23.35px;top:58.5px;font-weight:bold;color:#000;letter-spacing:-0.234px">200</div>
<div class="t" style="left:93.2px;top:58.5px;font-weight:bold;color:#000;letter-spacing:-0.234px">182</div>
<div class="t" style="left:163.05px;top:58.5px;font-weight:bold;color:#000;letter-spacing:-0.234px">174</div>
<div class="t" style="left:232.9px;top:58.5px;font-weight:bold;color:#000;letter-spacing:-0.234px">167</div>
<div class="t" style="left:302.75px;top:58.5px;font-weight:bold;color:#000;letter-spacing:-0.234px">155</div>
<div class="t" style="left:372.6px;top:58.5px;font-weight:bold;color:#000;letter-spacing:-0.234px">143</div>
<div class="t" style="left:442.45px;top:58.5px;font-weight:bold;color:#000;letter-spacing:-0.234px">132</div>
<div class="abs" style="left:20px;top:76px;width:489px;height:19px;background:#ffffff"></div>
<div class="abs" style="left:0px;top:76px;width:20px;height:19px;background:linear-gradient(to right,#fff 0%,#fff 40%,#f0f0f0 62%,#eeeeee 100%)"></div>
<div class="abs" style="left:0px;top:94px;width:20px;height:1px;background:#e1e3e6"></div>
<div class="abs" style="left:20px;top:94px;width:489px;height:1px;background:#000"></div>
<div class="abs" style="left:89.2px;top:76px;width:1px;height:19px;background:#000"></div>
<div class="abs" style="left:159.05px;top:76px;width:1px;height:19px;background:#000"></div>
<div class="abs" style="left:228.9px;top:76px;width:1px;height:19px;background:#000"></div>
<div class="abs" style="left:298.75px;top:76px;width:1px;height:19px;background:#000"></div>
<div class="abs" style="left:368.6px;top:76px;width:1px;height:19px;background:#000"></div>
<div class="abs" style="left:438.45px;top:76px;width:1px;height:19px;background:#000"></div>
<div class="abs" style="left:508.29999999999995px;top:76px;width:1px;height:19px;background:#000"></div>
<div class="abs" style="left:19.35px;top:76px;width:1px;height:19px;background:#000"></div>
<div class="t" style="left:23.35px;top:77.5px;font-weight:bold;color:#000;letter-spacing:-0.234px">250</div>
<div class="t" style="left:93.2px;top:77.5px;font-weight:bold;color:#000;letter-spacing:-0.234px">167</div>
<div class="t" style="left:163.05px;top:77.5px;font-weight:bold;color:#000;letter-spacing:-0.234px">160</div>
<div class="t" style="left:232.9px;top:77.5px;font-weight:bold;color:#000;letter-spacing:-0.234px">153</div>
<div class="t" style="left:302.75px;top:77.5px;font-weight:bold;color:#000;letter-spacing:-0.234px">142</div>
<div class="t" style="left:372.6px;top:77.5px;font-weight:bold;color:#000;letter-spacing:-0.234px">131</div>
<div class="t" style="left:442.45px;top:77.5px;font-weight:bold;color:#000;letter-spacing:-0.234px">121</div>
<div class="abs" style="left:20px;top:95px;width:489px;height:19px;background:#eaf3fb"></div>
<div class="abs" style="left:0px;top:95px;width:20px;height:19px;background:linear-gradient(to right,#fff 0%,#fff 40%,#f0f0f0 62%,#eeeeee 100%)"></div>
<div class="abs" style="left:0px;top:113px;width:20px;height:1px;background:#e1e3e6"></div>
<div class="abs" style="left:20px;top:113px;width:489px;height:1px;background:#000"></div>
<div class="abs" style="left:89.2px;top:95px;width:1px;height:19px;background:#000"></div>
<div class="abs" style="left:159.05px;top:95px;width:1px;height:19px;background:#000"></div>
<div class="abs" style="left:228.9px;top:95px;width:1px;height:19px;background:#000"></div>
<div class="abs" style="left:298.75px;top:95px;width:1px;height:19px;background:#000"></div>
<div class="abs" style="left:368.6px;top:95px;width:1px;height:19px;background:#000"></div>
<div class="abs" style="left:438.45px;top:95px;width:1px;height:19px;background:#000"></div>
<div class="abs" style="left:508.29999999999995px;top:95px;width:1px;height:19px;background:#000"></div>
<div class="abs" style="left:19.35px;top:95px;width:1px;height:19px;background:#000"></div>
<div class="t" style="left:23.35px;top:96.5px;font-weight:bold;color:#000;letter-spacing:-0.234px">300</div>
<div class="t" style="left:93.2px;top:96.5px;font-weight:bold;color:#000;letter-spacing:-0.234px">153</div>
<div class="t" style="left:163.05px;top:96.5px;font-weight:bold;color:#000;letter-spacing:-0.234px">147</div>
<div class="t" style="left:232.9px;top:96.5px;font-weight:bold;color:#000;letter-spacing:-0.234px">140</div>
<div class="t" style="left:302.75px;top:96.5px;font-weight:bold;color:#000;letter-spacing:-0.234px">130</div>
<div class="t" style="left:372.6px;top:96.5px;font-weight:bold;color:#000;letter-spacing:-0.234px">121</div>
<div class="t" style="left:442.45px;top:96.5px;font-weight:bold;color:#000;letter-spacing:-0.218px">111</div>
<div class="abs" style="left:20px;top:114px;width:489px;height:19px;background:#ffffff"></div>
<div class="abs" style="left:0px;top:114px;width:20px;height:19px;background:linear-gradient(to right,#fff 0%,#fff 40%,#f0f0f0 62%,#eeeeee 100%)"></div>
<div class="abs" style="left:0px;top:132px;width:20px;height:1px;background:#e1e3e6"></div>
<div class="abs" style="left:20px;top:132px;width:489px;height:1px;background:#000"></div>
<div class="abs" style="left:89.2px;top:114px;width:1px;height:19px;background:#000"></div>
<div class="abs" style="left:159.05px;top:114px;width:1px;height:19px;background:#000"></div>
<div class="abs" style="left:228.9px;top:114px;width:1px;height:19px;background:#000"></div>
<div class="abs" style="left:298.75px;top:114px;width:1px;height:19px;background:#000"></div>
<div class="abs" style="left:368.6px;top:114px;width:1px;height:19px;background:#000"></div>
<div class="abs" style="left:438.45px;top:114px;width:1px;height:19px;background:#000"></div>
<div class="abs" style="left:508.29999999999995px;top:114px;width:1px;height:19px;background:#000"></div>
<div class="abs" style="left:19.35px;top:114px;width:1px;height:19px;background:#000"></div>
<div class="t" style="left:23.35px;top:115.5px;font-weight:bold;color:#000;letter-spacing:-0.234px">350</div>
<div class="t" style="left:93.2px;top:115.5px;font-weight:bold;color:#000;letter-spacing:-0.234px">142</div>
<div class="t" style="left:163.05px;top:115.5px;font-weight:bold;color:#000;letter-spacing:-0.234px">136</div>
<div class="t" style="left:232.9px;top:115.5px;font-weight:bold;color:#000;letter-spacing:-0.234px">130</div>
<div class="t" style="left:302.75px;top:115.5px;font-weight:bold;color:#000;letter-spacing:-0.234px">121</div>
<div class="t" style="left:372.6px;top:115.5px;font-weight:bold;color:#000;letter-spacing:-0.226px">112</div>
<div class="t" style="left:442.45px;top:115.5px;font-weight:bold;color:#000;letter-spacing:-0.234px">103</div>
</div>
<div class="abs" style="left:518px;top:372px;width:17px;height:128px;background:#f0f0f0"></div>
<div class="abs" style="left:518px;top:390px;width:17px;height:70px;background:#cdcdcd"></div>
<svg style="left:518px;top:372px" width="17" height="18" viewBox="0 0 17 18"><path d="M4.5 11 L8.5 7 L12.5 11" stroke="#606060" stroke-width="1" fill="none"/></svg>
<svg style="left:518px;top:482px" width="17" height="18" viewBox="0 0 17 18"><path d="M4.5 7 L8.5 11 L12.5 7" stroke="#606060" stroke-width="1" fill="none"/></svg>
<div class="abs" style="left:536px;top:316px;width:5px;height:185px;background:#f1f1f0"></div>
<!-- chart -->
<svg style="left:0;top:0" width="1078" height="614" viewBox="0 0 1078 614">
<path d="M591.2 328.0 L591.2 454.9 L1056.7 454.9" stroke="#8c8c8c" stroke-width="1.2" fill="none"/>
<path d="M585.7 454.9 L591.2 454.9 M585.7 429.6 L591.2 429.6 M585.7 404.4 L591.2 404.4 M585.7 379.1 L591.2 379.1 M585.7 353.8 L591.2 353.8 M585.7 328.5 L591.2 328.5 M591.2 454.9 L591.2 460.4 M684.3 454.9 L684.3 460.4 M777.4 454.9 L777.4 460.4 M870.5 454.9 L870.5 460.4 M963.6 454.9 L963.6 460.4 M1056.7 454.9 L1056.7 460.4 " stroke="#8c8c8c" stroke-width="1.2" fill="none"/>
<polyline points="637.8,372.0 684.3,376.6 730.9,382.6 777.4,388.2 824.0,393.7 870.5,398.8 917.0,402.8 963.6,405.9" stroke="#ee82ee" stroke-width="2" fill="none" stroke-linejoin="round"/>
<polyline points="637.8,364.4 684.3,370.0 730.9,376.1 777.4,382.6 824.0,388.7 870.5,393.7 917.0,398.3 963.6,401.8" stroke="#ffa500" stroke-width="2" fill="none" stroke-linejoin="round"/>
<polyline points="637.8,357.4 684.3,362.9 730.9,369.5 777.4,376.6 824.0,383.1 870.5,389.2 917.0,393.7 963.6,397.3" stroke="#008000" stroke-width="2" fill="none" stroke-linejoin="round"/>
<polyline points="637.8,349.8 684.3,355.8 730.9,363.4 777.4,370.5 824.0,377.6 870.5,384.1 917.0,389.2 963.6,393.2" stroke="#000000" stroke-width="2" fill="none" stroke-linejoin="round"/>
<polyline points="637.8,344.7 684.3,351.3 730.9,358.9 777.4,367.0 824.0,374.0 870.5,380.6 917.0,386.2 963.6,390.2" stroke="#0000ff" stroke-width="2" fill="none" stroke-linejoin="round"/>
<polyline points="637.8,340.2 684.3,346.7 730.9,354.8 777.4,362.9 824.0,370.5 870.5,377.6 917.0,383.1 963.6,387.7" stroke="#ff0000" stroke-width="2" fill="none" stroke-linejoin="round"/>
</svg>
<div class="t" style="left:575.76px;top:447.1px;color:#444444;letter-spacing:-0.133px">0</div>
<div class="t" style="left:569.22px;top:421.83px;color:#444444;letter-spacing:-0.133px">50</div>
<div class="t" style="left:562.68px;top:396.56px;color:#444444;letter-spacing:-0.133px">100</div>
<div class="t" style="left:562.68px;top:371.29px;color:#444444;letter-spacing:-0.133px">150</div>
<div class="t" style="left:562.68px;top:346.02px;color:#444444;letter-spacing:-0.133px">200</div>
<div class="t" style="left:562.68px;top:320.75px;color:#444444;letter-spacing:-0.133px">250</div>
<div class="t" style="left:587.93px;top:465.5px;color:#444444;letter-spacing:-0.133px">0</div>
<div class="t" style="left:674.49px;top:465.5px;color:#444444;letter-spacing:-0.133px">100</div>
<div class="t" style="left:767.59px;top:465.5px;color:#444444;letter-spacing:-0.133px">200</div>
<div class="t" style="left:860.69px;top:465.5px;color:#444444;letter-spacing:-0.133px">300</div>
<div class="t" style="left:953.79px;top:465.5px;color:#444444;letter-spacing:-0.133px">400</div>
<div class="t" style="left:1046.89px;top:465.5px;color:#444444;letter-spacing:-0.133px">500</div>
<div class="t" style="left:779.15px;top:487px;color:#444444;letter-spacing:-0.078px">Temperature</div>
<div class="t" style="left:848.88px;top:487px;color:#444444;letter-spacing:-0.340px">[°C]</div>
<div class="t" style="left:543.5px;top:424.0px;color:#444444;transform:rotate(-90deg);transform-origin:0 0;letter-spacing:-0.224px">Stress [MPa]</div>
<!-- notes -->
<div class="abs" style="left:8px;top:514px;width:1062px;height:63px;border:1px solid #d8d8cc;border-radius:5px"></div>
<div class="abs" style="left:20px;top:510px;width:62px;height:9px;background:#fff"></div>
<svg style="left:21px;top:506px" width="16" height="16" viewBox="0 0 16 16"><circle cx="8" cy="8" r="6.6" fill="#fff" stroke="#7a7a7a" stroke-width="1"/><path d="M5.2 9.3 L8 6.5 L10.8 9.3" stroke="#333" stroke-width="1.4" fill="none"/></svg>
<div class="t" style="left:40.3px;top:506.5px;letter-spacing:0.031px">Notes</div>
<div class="t" style="left:20.3px;top:534px;letter-spacing:-0.444px">The</div>
<div class="t" style="left:42.93px;top:534px;letter-spacing:-0.297px">values</div>
<div class="t" style="left:79.12px;top:534px;letter-spacing:0.018px">correspond</div>
<div class="t" style="left:142.63px;top:534px;letter-spacing:0.546px">to</div>
<div class="t" style="left:157.01px;top:534px;letter-spacing:0.148px">the</div>
<div class="t" style="left:177.43px;top:534px;letter-spacing:0.078px">lower</div>
<div class="t" style="left:209.78px;top:534px;letter-spacing:0.076px">band</div>
<div class="t" style="left:240.07px;top:534px;letter-spacing:0.390px">of</div>
<div class="t" style="left:254.14px;top:534px;letter-spacing:0.148px">the</div>
<div class="t" style="left:274.55px;top:534px;letter-spacing:-0.044px">relevant</div>
<div class="t" style="left:320.18px;top:534px;letter-spacing:0.201px">trend</div>
<div class="t" style="left:351.82px;top:534px;letter-spacing:-0.164px">curve</div>
<div class="t" style="left:383.63px;top:534px;letter-spacing:0.117px">determined</div>
<div class="t" style="left:448.12px;top:534px;letter-spacing:0.172px">in</div>
<div class="t" style="left:461.09px;top:534px;letter-spacing:-0.187px">accordance</div>
<div class="t" style="left:524.55px;top:534px;letter-spacing:0.272px">with</div>
<div class="t" style="left:550.26px;top:534px;letter-spacing:-0.811px">EN</div>
<div class="t" style="left:568.6px;top:534px;letter-spacing:-0.206px">10314</div>
<div class="t" style="left:604.23px;top:534px;letter-spacing:0.272px">with</div>
<div class="t" style="left:629.94px;top:534px;letter-spacing:-0.565px">a</div>
<div class="t" style="left:639.34px;top:534px;letter-spacing:-0.009px">confidence</div>
<div class="t" style="left:700.57px;top:534px;letter-spacing:0.357px">limit</div>
<div class="t" style="left:726.97px;top:534px;letter-spacing:0.390px">of</div>
<div class="t" style="left:741.05px;top:534px;letter-spacing:0.203px">about</div>
<div class="t" style="left:775.38px;top:534px;letter-spacing:-0.206px">98</div>
<div class="t" style="left:791.6px;top:534px;letter-spacing:-0.854px">%</div>
<div class="t" style="left:804.71px;top:534px;letter-spacing:-0.289px">(2</div>
<div class="t" style="left:818.09px;top:534px;letter-spacing:-0.642px">s)</div>
<div class="t" style="left:20.3px;top:549.5px;letter-spacing:-0.313px">For</div>
<div class="t" style="left:40.65px;top:549.5px;letter-spacing:-0.034px">design</div>
<div class="t" style="left:79.09px;top:549.5px;letter-spacing:-0.079px">calculations</div>
<div class="t" style="left:144.13px;top:549.5px;letter-spacing:0.231px">no</div>
<div class="t" style="left:161.23px;top:549.5px;letter-spacing:0.208px">interpolation</div>
<div class="t" style="left:232.59px;top:549.5px">between</div>
<div class="t" style="left:281.28px;top:549.5px;letter-spacing:-0.005px">stated</div>
<div class="t" style="left:317.22px;top:549.5px;letter-spacing:-0.298px">values</div>
<div class="t" style="left:353.41px;top:549.5px;letter-spacing:-0.337px">is</div>
<div class="t" style="left:364.69px;top:549.5px;letter-spacing:0.242px">permitted</div>
<div class="t" style="left:420.18px;top:549.5px;letter-spacing:-0.307px">(unless</div>
<div class="t" style="left:460.0px;top:549.5px;letter-spacing:0.147px">the</div>
<div class="t" style="left:480.41px;top:549.5px;letter-spacing:-0.034px">design</div>
<div class="t" style="left:518.85px;top:549.5px;letter-spacing:-0.029px">code</div>
<div class="t" style="left:548.04px;top:549.5px;letter-spacing:0.049px">explicitly</div>
<div class="t" style="left:597.16px;top:549.5px">provides</div>
<div class="t" style="left:645.78px;top:549.5px;letter-spacing:0.319px">for</div>
<div class="t" style="left:664.03px;top:549.5px;letter-spacing:-0.033px">it).</div>
<div class="t" style="left:680.51px;top:549.5px;letter-spacing:-0.445px">The</div>
<div class="t" style="left:703.14px;top:549.5px;letter-spacing:-0.298px">values</div>
<div class="t" style="left:739.32px;top:549.5px;letter-spacing:0.083px">at</div>
<div class="t" style="left:752.79px;top:549.5px;letter-spacing:0.147px">the</div>
<div class="t" style="left:773.19px;top:549.5px;letter-spacing:0.102px">higher</div>
<div class="t" style="left:810.45px;top:549.5px;letter-spacing:0.080px">temperature</div>
<div class="t" style="left:879.32px;top:549.5px;letter-spacing:-0.180px">shall</div>
<div class="t" style="left:906.38px;top:549.5px;letter-spacing:-0.009px">be</div>
<div class="t" style="left:923.0px;top:549.5px;letter-spacing:-0.311px">used.</div>
<!-- bottom tabs -->
<div class="abs" style="left:3px;top:582px;width:1073px;height:1px;background:#c4c4c4"></div>
<div class="abs" style="left:4px;top:583px;width:83px;height:21px;background:linear-gradient(#ececec,#e6e6e6);border:1px solid #c8c8c8;border-top:none"></div>
<div class="abs" style="left:119px;top:583px;width:33px;height:21px;background:linear-gradient(#ececec,#e6e6e6);border:1px solid #c8c8c8;border-top:none"></div>
<div class="abs" style="left:86px;top:582px;width:34px;height:23.5px;background:#fff;border:1px solid #c8c8c8;border-top:none"></div>
<div class="t" style="left:31.7px;top:585.5px;letter-spacing:-0.120px">Materials</div>
<svg style="left:0;top:560px" width="200" height="54" viewBox="0 560 200 54">
<rect x="11.6" y="587.5" width="14.8" height="11.8" fill="#00b800" stroke="#0000ff" stroke-width="1.2"/><rect x="11.6" y="592.8" width="14.8" height="1.2" fill="#0000ff"/><rect x="17.2" y="589.8" width="3.6" height="0.9" fill="#1030c0"/><rect x="16.2" y="590.9" width="5.6" height="0.6" fill="#106020"/><rect x="17" y="596" width="3.6" height="1.2" fill="#0828a0"/>
<g transform="translate(94,585.6) scale(0.86)"><g transform="translate(-197.2,-65.2)"><g transform="translate(197.2,65.2)"><path d="M5 7 L12.2 14.8" stroke="#1818e8" stroke-width="3.4" fill="none"/><path d="M3.8 8.8 L10 15.4" stroke="#0a0ab8" stroke-width="0.8" fill="none"/><rect x="2.9" y="0.7" width="4.4" height="4" fill="#fff" stroke="#2222ff" stroke-width="1.6"/><rect x="0" y="2.2" width="6.5" height="6.8" fill="#1010e8"/><rect x="2.6" y="2.8" width="3" height="3" fill="#0000a0"/><rect x="4.4" y="1.5" width="2.1" height="1.2" fill="#e8e8ff"/><rect x="12.9" y="9.8" width="3.3" height="4.6" fill="#fff" stroke="#2222ff" stroke-width="1.6"/><rect x="8.9" y="11.4" width="5.7" height="6.9" fill="#1010e8"/><rect x="11.2" y="11.6" width="3" height="3" fill="#0000a0"/><path d="M1.4 4 L1.4 7 L5.2 7 L10.6 12.8 L10.6 16 L13.6 16" stroke="#10d820" stroke-width="1.5" fill="none"/><path d="M0.2 9.3 L5.6 9.3 M9 18.5 L14.4 18.5 M14.8 16.3 L16.8 16.3" stroke="#20a040" stroke-width="0.8" fill="none"/></g>
<path d="M210.75 78.6 L210.75 66.80000000000001 L212.2 65.4 L213.64999999999998 66.80000000000001 L213.64999999999998 78.6 Z" fill="#b0b0b0" stroke="#282828" stroke-width="1" stroke-linejoin="round"/><rect x="212.1" y="67.0" width="0.9" height="4.999999999999995" fill="#e4e4e4"/><rect x="211.35" y="72" width="1.7" height="6.599999999999994" fill="#d01420"/><rect x="209.89999999999998" y="76.6" width="4.6" height="4.6" rx="1.7" fill="#e41818" stroke="#4a1010" stroke-width="0.9"/><circle cx="212.0" cy="78.69999999999999" r="0.8" fill="#ff5858"/>
</g></g>
<g transform="translate(126,584.6) scale(0.86)"><g transform="translate(-221,-65.2)"><g transform="translate(221,65.2)"><path d="M5 7 L12.2 14.8" stroke="#1818e8" stroke-width="3.4" fill="none"/><path d="M3.8 8.8 L10 15.4" stroke="#0a0ab8" stroke-width="0.8" fill="none"/><rect x="2.9" y="0.7" width="4.4" height="4" fill="#fff" stroke="#2222ff" stroke-width="1.6"/><rect x="0" y="2.2" width="6.5" height="6.8" fill="#1010e8"/><rect x="2.6" y="2.8" width="3" height="3" fill="#0000a0"/><rect x="4.4" y="1.5" width="2.1" height="1.2" fill="#e8e8ff"/><rect x="12.9" y="9.8" width="3.3" height="4.6" fill="#fff" stroke="#2222ff" stroke-width="1.6"/><rect x="8.9" y="11.4" width="5.7" height="6.9" fill="#1010e8"/><rect x="11.2" y="11.6" width="3" height="3" fill="#0000a0"/><path d="M1.4 4 L1.4 7 L5.2 7 L10.6 12.8 L10.6 16 L13.6 16" stroke="#10d820" stroke-width="1.5" fill="none"/><path d="M0.2 9.3 L5.6 9.3 M9 18.5 L14.4 18.5 M14.8 16.3 L16.8 16.3" stroke="#20a040" stroke-width="0.8" fill="none"/></g>
<circle cx="235" cy="69.3" r="3.7" fill="#fff" stroke="#303030" stroke-width="1.2"/><path d="M235 66.8 L235 69.6 L237 69.6" stroke="#202020" stroke-width="0.9" fill="none"/></g></g>
</svg>
<!-- frame -->
<div class="abs" style="left:1px;top:606px;width:1076px;height:1px;background:#d6d6d6"></div>
<div class="abs" style="left:1px;top:607px;width:1076px;height:5px;background:#f0eeed"></div>
<div class="abs" style="left:874px;top:609px;width:1px;height:2px;background:#8c8c8c"></div>
<div class="abs" style="left:0px;top:612px;width:1078px;height:1px;background:#9a9a9a"></div>
<div class="abs" style="left:0px;top:613px;width:1078px;height:1px;background:#4a4a4a"></div>
<div class="abs" style="left:0px;top:0px;width:1078px;height:1px;background:#606060"></div>
<div class="abs" style="left:0px;top:0px;width:1px;height:614px;background:#606060"></div>
<div class="abs" style="left:1px;top:94px;width:1.6px;height:518px;background:#c8c8c8"></div>
<div class="abs" style="left:1076px;top:0px;width:1px;height:30px;background:#666666"></div>
<div class="abs" style="left:1077px;top:0px;width:1px;height:30px;background:#f0f0f0"></div>
<div class="abs" style="left:1077px;top:30px;width:1px;height:64px;background:#e2e2e2"></div>
<div class="abs" style="left:1075.5px;top:94px;width:1.5px;height:518px;background:#c8c8c8"></div>
<div class="abs" style="left:1077px;top:94px;width:1px;height:518px;background:#e6e6e6"></div>
</div>
</body>
</html>
